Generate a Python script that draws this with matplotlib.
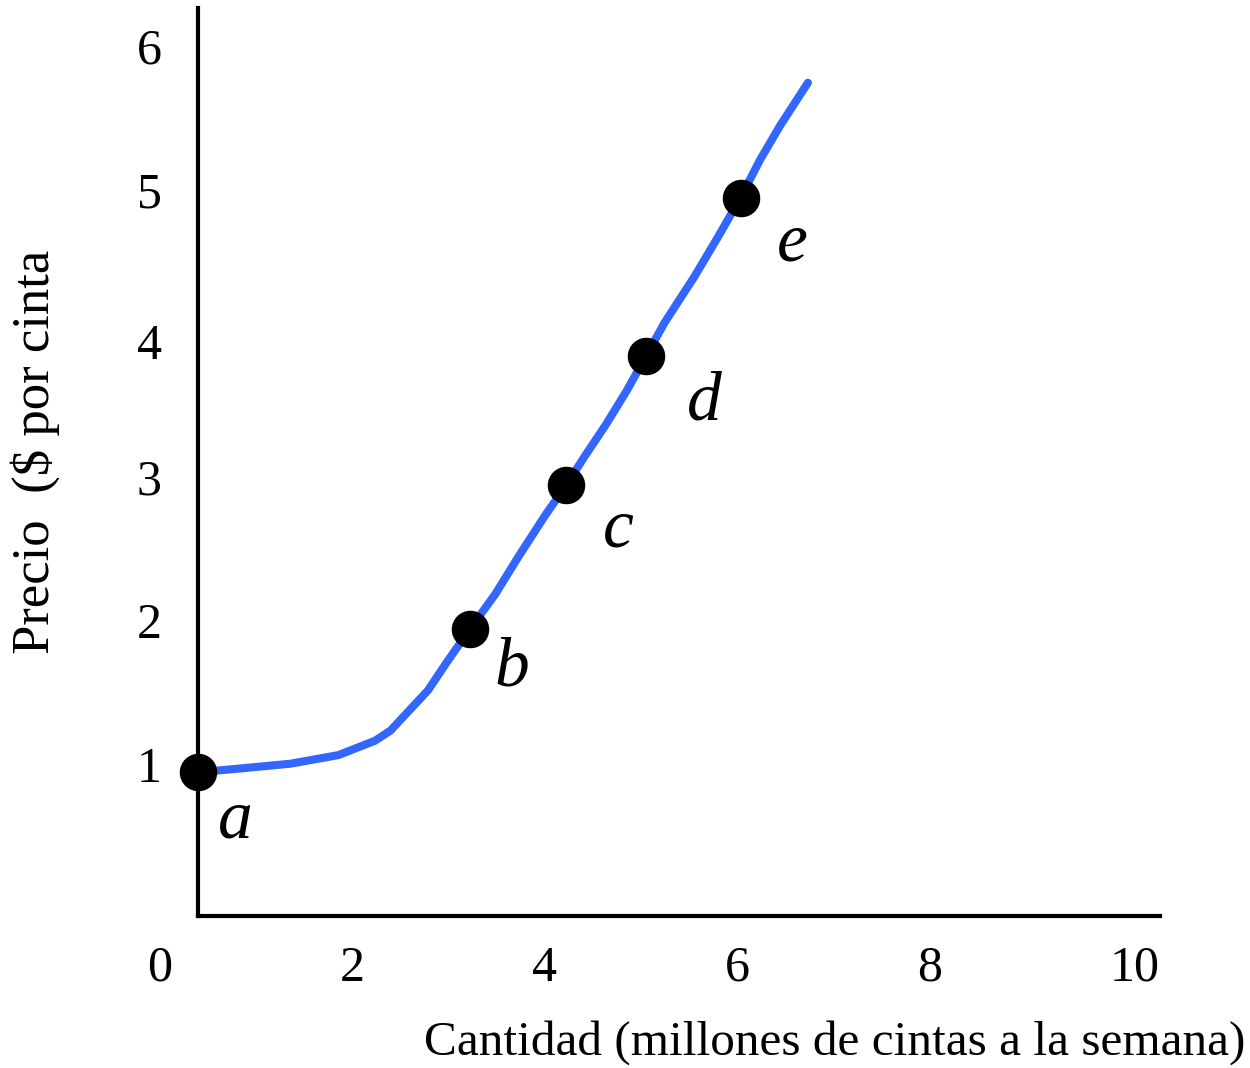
#!/usr/bin/env python3
"""Supply curve for tapes (curva de oferta de cintas)."""

import matplotlib
matplotlib.use("Agg")
import matplotlib.pyplot as plt
import matplotlib.transforms as mtransforms

# curve (quantity, price)
curve_q = [0.0, 0.49, 0.96, 1.46, 1.84, 2.00, 2.39, 2.59, 2.83, 3.09, 3.33, 3.61,
           3.83, 4.02, 4.24, 4.46, 4.66, 4.85, 5.16, 5.40, 5.64, 5.84, 6.05, 6.34]
curve_p = [1.00, 1.03, 1.06, 1.12, 1.22, 1.29, 1.57, 1.77, 2.00, 2.24, 2.50, 2.79,
           3.00, 3.20, 3.42, 3.66, 3.90, 4.13, 4.45, 4.72, 5.00, 5.26, 5.50, 5.80]

# labelled points
point_names = ["a", "b", "c", "d", "e"]
point_q = [0.0, 2.83, 3.83, 4.66, 5.64]
point_p = [1.0, 2.0, 3.0, 3.9, 5.0]
label_offsets = [(27, -35), (30, -29), (37, -32), (42, -34), (37, -33)]

x_ticks = [0, 2, 4, 6, 8, 10]
y_ticks = [1, 2, 3, 4, 5, 6]

SERIF = "Liberation Serif"
BLUE = "#3366ff"

fig = plt.figure(figsize=(12.5, 10.68), dpi=100)
ax = fig.add_axes([198 / 1250, 1 - 916 / 1068, (1160 - 198) / 1250, (916 - 8) / 1068])

ax.plot(curve_q, curve_p, color=BLUE, linewidth=5.8, solid_capstyle="round", clip_on=False, zorder=3)
ax.plot(point_q, point_p, "o", color="black", markersize=26, clip_on=False, zorder=4)

for name, q, p, off in zip(point_names, point_q, point_p, label_offsets):
    ax.annotate(name, (q, p), xytext=off, textcoords="offset points", ha="center", va="center",
                fontsize=50, fontstyle="italic", family=SERIF)

ax.set_xlim(0, 10)
ax.set_ylim(0, 6.32)
for side in ["top", "right"]:
    ax.spines[side].set_visible(False)
for side in ["left", "bottom"]:
    ax.spines[side].set_linewidth(3)

ax.set_xticks(x_ticks)
ax.set_yticks(y_ticks)
ax.tick_params(length=0)
ax.tick_params(axis="x", pad=21)
ax.tick_params(axis="y", pad=26)
ax.set_xticklabels([str(t) for t in x_ticks], family=SERIF, fontsize=36)
ax.set_yticklabels([str(t) for t in y_ticks], family=SERIF, fontsize=36)

# the quantity labels sit a bit left of their positions in the original
for lab, t in zip(ax.get_xticklabels(), x_ticks):
    dx = -25 if t == 10 else -38
    lab.set_transform(lab.get_transform() + mtransforms.ScaledTranslation(dx / 100, 0, fig.dpi_scale_trans))
for lab, t in zip(ax.get_yticklabels(), y_ticks):
    dy = 0 if t == 4 else 8
    lab.set_transform(lab.get_transform() + mtransforms.ScaledTranslation(0, dy / 100, fig.dpi_scale_trans))

fig.text(35 / 1250, 1 - 452 / 1068, "Precio  ($ por cinta", rotation=90, ha="center", va="center",
         family=SERIF, fontsize=38)
fig.text(835 / 1250, 1 - 1043 / 1068, "Cantidad (millones de cintas a la semana)", ha="center",
         va="center", family=SERIF, fontsize=35.5)

fig.savefig("out.png", dpi=100)
